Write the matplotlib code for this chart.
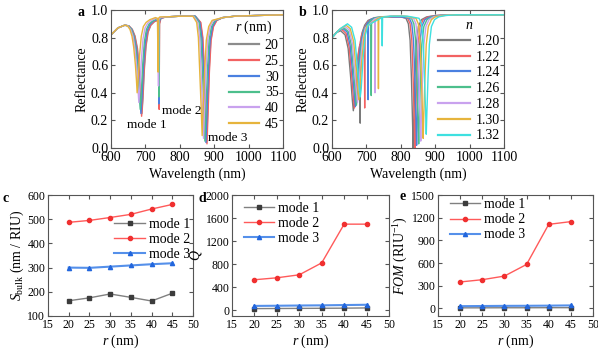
import matplotlib
matplotlib.use("Agg")
import matplotlib.pyplot as plt

plt.rcParams['font.family'] = 'Liberation Serif'
plt.rcParams['font.size'] = 10
plt.rcParams['mathtext.fontset'] = 'custom'
plt.rcParams['mathtext.rm'] = 'Liberation Serif'
plt.rcParams['mathtext.it'] = 'Liberation Serif:italic'
plt.rcParams['mathtext.bf'] = 'Liberation Serif:bold'

# ---- panel a: reflectance spectra for different r (nm)
r_labels = ['20', '25', '30', '35', '40', '45']
a_colors = ['#8c8c8c', '#f26262', '#4a80e0', '#4cbf8c', '#c9a2ee', '#e6b43c']
a_wl = [
    [600, 620, 640, 652, 662, 670, 677, 683, 687, 690, 693, 697, 702, 708, 716, 726, 735, 739, 740, 741, 745, 760, 800, 845, 852, 860, 866, 871, 875, 878, 881, 885, 890, 897, 907, 925, 960, 1020, 1100],
    [600, 620, 640, 652, 661, 669, 676, 682, 686, 689, 692, 696, 701, 707, 715, 725, 735, 739, 740, 741, 745, 760, 800, 845, 852, 861, 867, 872, 876, 879, 882, 886, 891, 898, 908, 925, 960, 1020, 1100],
    [600, 620, 640, 651, 660, 667, 674, 680, 684, 687, 690, 694, 699, 705, 713, 723, 734, 738, 739, 740, 744, 760, 800, 845, 851, 858, 864, 869, 873, 876, 879, 883, 888, 895, 905, 925, 960, 1020, 1100],
    [600, 620, 640, 650, 659, 666, 672, 678, 682, 685, 688, 692, 697, 703, 711, 721, 733, 738, 739, 740, 744, 760, 800, 843, 849, 856, 861, 866, 870, 873, 876, 880, 885, 892, 902, 925, 960, 1020, 1100],
    [600, 620, 640, 649, 657, 664, 669, 675, 678, 681, 684, 688, 693, 699, 707, 717, 731, 736, 738, 739, 743, 760, 800, 840, 846, 852, 858, 862, 866, 869, 872, 876, 881, 888, 898, 925, 960, 1020, 1100],
    [600, 620, 640, 648, 655, 661, 666, 671, 674, 676, 679, 683, 688, 694, 702, 713, 729, 735, 737, 738, 742, 760, 800, 838, 843, 849, 854, 858, 862, 865, 868, 872, 877, 884, 894, 925, 960, 1020, 1100],
]
a_R = [
    [0.82, 0.87, 0.89, 0.885, 0.86, 0.81, 0.72, 0.55, 0.38, 0.25, 0.36, 0.57, 0.74, 0.84, 0.89, 0.915, 0.925, 0.90, 0.33, 0.90, 0.94, 0.95, 0.955, 0.955, 0.935, 0.91, 0.80, 0.55, 0.25, 0.04, 0.25, 0.55, 0.78, 0.88, 0.925, 0.945, 0.955, 0.96, 0.965],
    [0.82, 0.87, 0.89, 0.885, 0.86, 0.81, 0.72, 0.55, 0.37, 0.23, 0.35, 0.57, 0.74, 0.84, 0.89, 0.915, 0.925, 0.90, 0.28, 0.90, 0.94, 0.95, 0.955, 0.955, 0.935, 0.91, 0.80, 0.55, 0.24, 0.03, 0.24, 0.55, 0.78, 0.88, 0.925, 0.945, 0.955, 0.96, 0.965],
    [0.82, 0.87, 0.89, 0.885, 0.86, 0.81, 0.72, 0.55, 0.38, 0.25, 0.36, 0.58, 0.75, 0.85, 0.895, 0.92, 0.93, 0.91, 0.32, 0.91, 0.94, 0.95, 0.955, 0.955, 0.935, 0.91, 0.80, 0.55, 0.25, 0.04, 0.25, 0.55, 0.78, 0.88, 0.925, 0.945, 0.955, 0.96, 0.965],
    [0.82, 0.87, 0.89, 0.885, 0.86, 0.81, 0.72, 0.56, 0.40, 0.28, 0.39, 0.60, 0.77, 0.86, 0.90, 0.92, 0.935, 0.92, 0.37, 0.92, 0.945, 0.95, 0.955, 0.955, 0.935, 0.91, 0.80, 0.55, 0.26, 0.05, 0.26, 0.55, 0.78, 0.88, 0.925, 0.945, 0.955, 0.96, 0.965],
    [0.82, 0.87, 0.89, 0.885, 0.86, 0.81, 0.73, 0.58, 0.44, 0.33, 0.44, 0.63, 0.79, 0.87, 0.905, 0.925, 0.94, 0.93, 0.45, 0.93, 0.945, 0.95, 0.955, 0.955, 0.935, 0.91, 0.80, 0.55, 0.28, 0.07, 0.28, 0.55, 0.78, 0.88, 0.925, 0.945, 0.955, 0.96, 0.965],
    [0.82, 0.87, 0.89, 0.885, 0.86, 0.81, 0.73, 0.60, 0.49, 0.40, 0.50, 0.67, 0.81, 0.88, 0.91, 0.93, 0.945, 0.94, 0.55, 0.94, 0.95, 0.95, 0.955, 0.955, 0.935, 0.91, 0.80, 0.55, 0.30, 0.09, 0.30, 0.55, 0.78, 0.88, 0.925, 0.945, 0.955, 0.96, 0.965],
]

# ---- panel b: reflectance spectra for different n
n_labels = ['1.20', '1.22', '1.24', '1.26', '1.28', '1.30', '1.32']
b_colors = ['#7a7a7a', '#f26262', '#4a80e0', '#4cbf8c', '#c9a2ee', '#e6b43c', '#3ee0e0']
b_wl = [
    [600, 612, 625, 638, 647, 654, 659, 662, 665, 670, 676, 681, 682, 683, 688, 695, 705, 720, 760, 800, 815, 822, 827, 831, 834, 836, 838, 841, 845, 851, 860, 875, 900, 950, 1100],
    [600, 614, 628, 641, 650, 657, 662, 665, 668, 673, 679, 686, 694, 695, 696, 703, 712, 725, 760, 800, 820, 827, 832, 836, 839, 841, 843, 846, 850, 856, 865, 880, 905, 950, 1100],
    [600, 616, 632, 644, 653, 660, 665, 668, 671, 676, 683, 691, 704, 705, 706, 712, 720, 730, 760, 800, 825, 832, 837, 841, 844, 846, 848, 851, 855, 861, 870, 885, 910, 950, 1100],
    [600, 618, 635, 647, 656, 663, 668, 671, 674, 679, 686, 694, 713, 714, 715, 720, 728, 740, 770, 805, 831, 838, 843, 847, 850, 852, 854, 857, 861, 867, 876, 890, 915, 950, 1100],
    [600, 620, 638, 650, 659, 666, 671, 674, 677, 682, 689, 697, 724, 725, 726, 730, 738, 750, 775, 810, 837, 844, 849, 853, 856, 858, 860, 863, 867, 873, 882, 895, 920, 950, 1100],
    [600, 622, 641, 653, 663, 670, 675, 678, 681, 686, 693, 701, 734, 735, 736, 740, 748, 760, 780, 815, 844, 851, 856, 860, 863, 865, 867, 870, 874, 880, 889, 900, 925, 955, 1100],
    [600, 624, 645, 657, 667, 674, 679, 682, 685, 690, 697, 705, 745, 746, 747, 752, 760, 770, 790, 820, 853, 860, 865, 869, 872, 874, 876, 879, 883, 889, 898, 910, 930, 960, 1100],
]
b_R = [
    [0.80, 0.835, 0.85, 0.82, 0.72, 0.52, 0.35, 0.27, 0.33, 0.52, 0.68, 0.75, 0.18, 0.77, 0.84, 0.89, 0.925, 0.94, 0.95, 0.95, 0.94, 0.90, 0.78, 0.50, 0.20, 0.0, 0.20, 0.50, 0.75, 0.88, 0.93, 0.95, 0.96, 0.965, 0.965],
    [0.80, 0.84, 0.86, 0.83, 0.73, 0.53, 0.37, 0.29, 0.35, 0.55, 0.72, 0.82, 0.87, 0.29, 0.88, 0.91, 0.93, 0.945, 0.95, 0.95, 0.94, 0.90, 0.78, 0.50, 0.20, 0.0, 0.20, 0.50, 0.75, 0.88, 0.93, 0.95, 0.96, 0.965, 0.965],
    [0.80, 0.845, 0.865, 0.84, 0.74, 0.54, 0.38, 0.30, 0.36, 0.57, 0.75, 0.85, 0.91, 0.35, 0.91, 0.93, 0.94, 0.945, 0.95, 0.95, 0.94, 0.90, 0.78, 0.50, 0.21, 0.02, 0.21, 0.50, 0.75, 0.88, 0.93, 0.95, 0.96, 0.965, 0.965],
    [0.80, 0.85, 0.87, 0.845, 0.75, 0.55, 0.39, 0.31, 0.37, 0.58, 0.76, 0.86, 0.925, 0.38, 0.925, 0.935, 0.945, 0.95, 0.955, 0.955, 0.94, 0.90, 0.78, 0.50, 0.22, 0.03, 0.22, 0.50, 0.75, 0.88, 0.93, 0.95, 0.96, 0.965, 0.965],
    [0.80, 0.855, 0.88, 0.855, 0.76, 0.56, 0.41, 0.33, 0.39, 0.60, 0.78, 0.87, 0.935, 0.40, 0.935, 0.94, 0.945, 0.95, 0.955, 0.955, 0.94, 0.90, 0.78, 0.50, 0.23, 0.05, 0.23, 0.50, 0.75, 0.88, 0.93, 0.95, 0.96, 0.965, 0.965],
    [0.80, 0.86, 0.89, 0.865, 0.77, 0.57, 0.43, 0.35, 0.41, 0.62, 0.80, 0.88, 0.94, 0.43, 0.94, 0.945, 0.95, 0.95, 0.955, 0.955, 0.94, 0.90, 0.78, 0.50, 0.25, 0.07, 0.25, 0.50, 0.75, 0.88, 0.93, 0.95, 0.96, 0.965, 0.965],
    [0.80, 0.865, 0.90, 0.875, 0.78, 0.58, 0.45, 0.37, 0.43, 0.64, 0.82, 0.89, 0.945, 0.74, 0.945, 0.95, 0.95, 0.955, 0.955, 0.955, 0.94, 0.90, 0.78, 0.50, 0.27, 0.10, 0.27, 0.50, 0.75, 0.88, 0.93, 0.95, 0.96, 0.965, 0.965],
]

# ---- panels c-e: sensing figures vs r
r_nm = [20, 25, 30, 35, 40, 45]
mode_names = ['mode 1', 'mode 2', 'mode 3']
s_bulk_m1 = [163, 175, 191, 177, 162, 194]
s_bulk_m2 = [487, 495, 507, 520, 542, 561]
s_bulk_m3 = [300, 299, 304, 309, 314, 318]
q_m1 = [28, 30, 32, 34, 36, 40]
q_m2 = [529, 563, 615, 822, 1494, 1494]
q_m3 = [75, 78, 82, 85, 90, 95]
fom_m1 = [8, 8, 9, 9, 10, 10]
fom_m2 = [350, 380, 428, 582, 1112, 1148]
fom_m3 = [30, 32, 34, 35, 37, 40]

mode_line_colors = ['#808080', '#ff5a5a', '#5590ea']
mode_marker_colors = ['#3c3c3c', '#f03030', '#2266dd']
mode_markers = ['s', 'o', '^']
mode_lw = [1.0, 1.0, 1.5]

spine_col = '#555555'

W, H = 598, 351
fig = plt.figure(figsize=(W / 100, H / 100), dpi=100)


def box(l, t, r, b):
    return [l / W, 1 - b / H, (r - l) / W, (b - t) / H]


def style(ax, size=10):
    for s in ax.spines.values():
        s.set_color(spine_col)
        s.set_linewidth(0.8)
    ax.tick_params(direction='in', top=True, right=True, length=3, width=0.8,
                   color=spine_col, labelsize=size, pad=2)


ax_a = fig.add_axes(box(111, 10, 283, 148))
for wl, R, c, lab in zip(a_wl, a_R, a_colors, r_labels):
    ax_a.plot(wl, R, color=c, lw=1.0, label=lab)
ax_a.set_xlim(600, 1100)
ax_a.set_ylim(0, 1.0)
ax_a.set_xticks(range(600, 1101, 100))
ax_a.set_yticks([0.0, 0.2, 0.4, 0.6, 0.8, 1.0])
ax_a.set_xlabel('Wavelength (nm)', fontsize=10, labelpad=3)
ax_a.set_ylabel('Reflectance', fontsize=10, labelpad=2)
ax_a.text(705, 0.165, 'mode 1', ha='center', va='center', fontsize=9.5)
ax_a.text(749, 0.27, 'mode 2', ha='left', va='center', fontsize=9.5)
ax_a.text(883, 0.07, 'mode 3', ha='left', va='center', fontsize=9.5)
leg = ax_a.legend(title='$r$ (nm)', loc='upper right', bbox_to_anchor=(1.015, 0.985),
                  frameon=False, fontsize=10, title_fontsize=10, handlelength=2.2,
                  handletextpad=0.4, labelspacing=0.2, borderaxespad=0.1)
for h in leg.get_lines():
    h.set_linewidth(1.6)
style(ax_a)

ax_b = fig.add_axes(box(332, 10, 504, 148))
for wl, R, c, lab in zip(b_wl, b_R, b_colors, n_labels):
    ax_b.plot(wl, R, color=c, lw=1.0, label=lab)
ax_b.set_xlim(600, 1100)
ax_b.set_ylim(0, 1.0)
ax_b.set_xticks(range(600, 1101, 100))
ax_b.set_yticks([0.0, 0.2, 0.4, 0.6, 0.8, 1.0])
ax_b.set_xlabel('Wavelength (nm)', fontsize=10, labelpad=3)
ax_b.set_ylabel('Reflectance', fontsize=10, labelpad=2)
leg = ax_b.legend(title='$n$', loc='upper right', bbox_to_anchor=(1.015, 0.985),
                  frameon=False, fontsize=10, title_fontsize=10, handlelength=2.3,
                  handletextpad=0.4, labelspacing=0.2, borderaxespad=0.1)
for h in leg.get_lines():
    h.set_linewidth(1.6)
style(ax_b)


def mode_panel(rect, series, ylim, yticks, ylabel, leg_kw):
    ax = fig.add_axes(rect)
    for vals, lc, mc, mk, lw, name in zip(series, mode_line_colors, mode_marker_colors,
                                           mode_markers, mode_lw, mode_names):
        ax.plot(r_nm, vals, color=lc, lw=lw, marker=mk, ms=3.0, mfc=mc, mec=mc,
                label=name)
    ax.set_xlim(15, 50)
    ax.set_xticks(range(15, 51, 5))
    ax.set_ylim(*ylim)
    ax.set_yticks(yticks)
    ax.set_xlabel('$r$ (nm)', fontsize=10, labelpad=1)
    ax.set_ylabel(ylabel, fontsize=10, labelpad=1)
    ax.legend(frameon=False, fontsize=10, handlelength=2.2, handletextpad=0.3,
              labelspacing=0.15, borderaxespad=0.1, **leg_kw)
    style(ax, 8.5)
    return ax


mode_panel(box(48, 195, 193, 316), [s_bulk_m1, s_bulk_m2, s_bulk_m3], (100, 600),
           range(100, 601, 100), r'$S_\mathrm{bulk}$ (nm / RIU)',
           dict(loc='upper right', bbox_to_anchor=(1.03, 0.87)))
mode_panel(box(232, 195, 389, 316), [q_m1, q_m2, q_m3], (-100, 2000),
           range(0, 2001, 400), '$Q$',
           dict(loc='upper left', bbox_to_anchor=(0.03, 1.0)))
mode_panel(box(438, 195, 593, 316), [fom_m1, fom_m2, fom_m3], (-100, 1500),
           range(0, 1501, 300), r'$FOM$ (RIU$^{-1}$)',
           dict(loc='upper left', bbox_to_anchor=(0.03, 1.03)))

for lab, x, y in [('a', 81, 12), ('b', 303, 12), ('c', 6, 198), ('d', 202, 198), ('e', 403, 196)]:
    fig.text(x / W, 1 - y / H, lab, fontsize=10, fontweight='bold', ha='center', va='center')

fig.savefig('out.png', dpi=100)
